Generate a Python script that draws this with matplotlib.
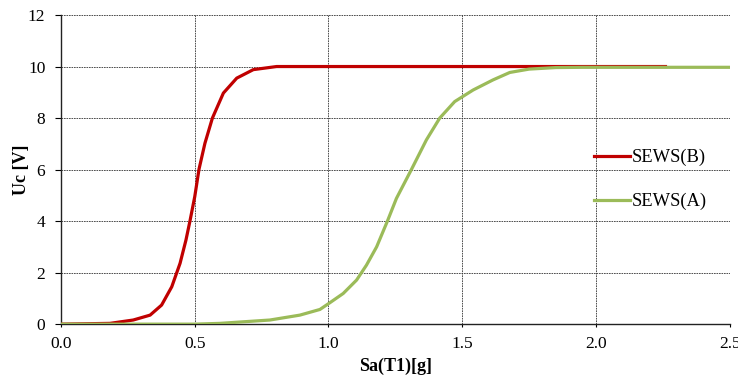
import matplotlib.pyplot as plt

plt.rcParams['font.family'] = ['Liberation Serif', 'DejaVu Serif']

# SEWS(B) curve
sa_b = [0.0, 0.183, 0.27, 0.333, 0.376, 0.414, 0.445, 0.467, 0.482, 0.50,
        0.516, 0.538, 0.566, 0.607, 0.657, 0.719, 0.806, 0.95, 1.5, 2.26]
uc_b = [0.0, 0.03, 0.16, 0.35, 0.74, 1.45, 2.36, 3.26, 4.0, 4.95,
        6.02, 7.02, 8.0, 8.97, 9.55, 9.88, 10.0, 10.0, 10.0, 10.0]

# SEWS(A) curve
sa_a = [0.0, 0.5, 0.594, 0.781, 0.893, 0.968, 1.005, 1.055, 1.105, 1.142,
        1.18, 1.22, 1.254, 1.31, 1.366, 1.416, 1.472, 1.541, 1.615, 1.678,
        1.75, 1.85, 1.95, 2.5]
uc_a = [0.0, 0.0, 0.03, 0.16, 0.35, 0.57, 0.83, 1.19, 1.71, 2.29,
        3.0, 3.99, 4.88, 6.0, 7.15, 8.0, 8.64, 9.09, 9.48, 9.77,
        9.9, 9.96, 9.97, 9.97]

xticks = [0.0, 0.5, 1.0, 1.5, 2.0, 2.5]
yticks = [0, 2, 4, 6, 8, 10, 12]

fig = plt.figure(figsize=(7.38, 3.8), dpi=100)
ax = fig.add_axes([0.0827, 0.147, 0.906, 0.8135])

ax.plot(sa_b, uc_b, color='#C00000', lw=2.3, label='SEWS(B)', zorder=3)
ax.plot(sa_a, uc_a, color='#9BBB59', lw=2.3, label='SEWS(A)', zorder=4)

ax.set_xlim(0, 2.5)
ax.set_ylim(0, 12)
ax.set_xticks(xticks)
ax.set_xticklabels(['%.1f' % v for v in xticks])
ax.set_yticks(yticks)
ax.tick_params(labelsize=12.5, width=0.8, color='black')
ax.tick_params(axis='y', length=4.3, pad=7)
ax.tick_params(axis='x', length=2.2, pad=6)
ax.grid(True, color='#333333', linestyle=(0, (2, 1)), linewidth=0.6)
ax.set_axisbelow(True)
for s in ['top', 'right']:
    ax.spines[s].set_visible(False)
for s in ['left', 'bottom']:
    ax.spines[s].set_linewidth(1.0)
    ax.spines[s].set_color('#222222')

ax.set_xlabel('Sa(T1)[g]', fontsize=13, fontweight='bold')
ax.set_ylabel('Uc [V]', fontsize=13, fontweight='bold')
ax.xaxis.set_label_coords(0.5, -0.11)
ax.yaxis.set_label_coords(-0.046, 0.5)

ax.legend(loc='center left', bbox_to_anchor=(0.797, 0.468), frameon=False,
          fontsize=13.3, handlelength=1.95, handletextpad=0.1, labelspacing=1.45,
          borderpad=0, borderaxespad=0)

fig.savefig('out.png', dpi=100)
